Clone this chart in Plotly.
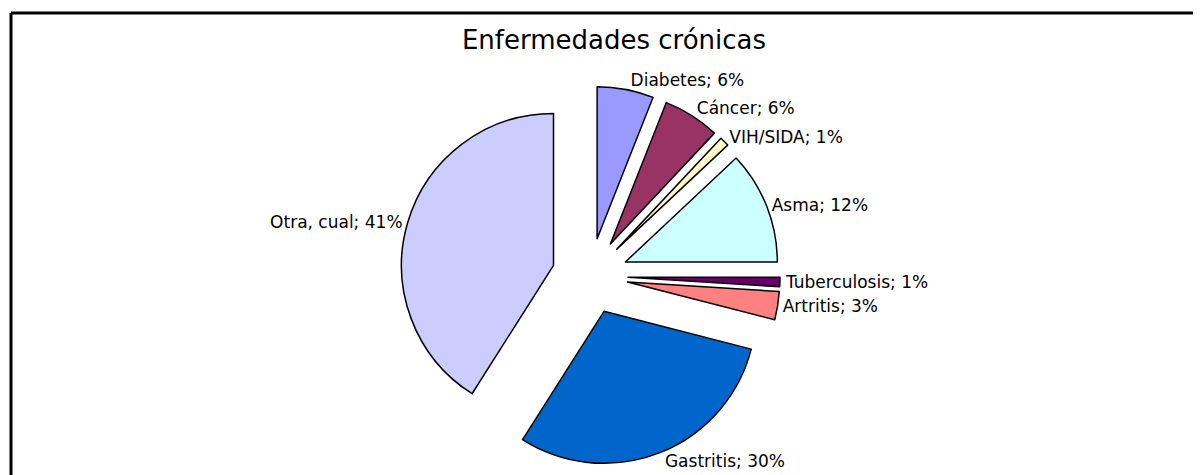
import plotly.graph_objects as go

labels = ["Diabetes", "Cáncer", "VIH/SIDA", "Asma", "Tuberculosis", "Artritis", "Gastritis", "Otra, cual"]
values = [6, 6, 1, 12, 1, 3, 30, 41]
colors = ["#9999FF", "#993366", "#FFFFCC", "#CCFFFF", "#660066", "#FF8080", "#0066CC", "#CCCCFF"]
title_text = "Enfermedades crónicas"

W, H = 1201, 475
OFF = 8  # page body margin offset

def px_x(x):
    return (x - OFF) / W

def px_y(y):
    return 1 - (y - OFF) / H

fig = go.Figure(go.Pie(
    labels=labels,
    values=values,
    sort=False,
    direction="clockwise",
    rotation=0,
    pull=[0.25] * len(values),
    marker=dict(colors=colors, line=dict(color="black", width=1.5)),
    texttemplate="%{label}; %{value}%",
    textposition="outside",
    textfont=dict(family="DejaVu Sans", size=17, color="black"),
    automargin=False,
    domain=dict(x=[px_x(400), px_x(780)], y=[px_y(466), px_y(86)]),
    showlegend=False,
    hoverinfo="label+value",
))

fig.update_layout(
    width=W, height=H,
    margin=dict(l=0, r=0, t=0, b=0, autoexpand=False),
    paper_bgcolor="white",
    plot_bgcolor="white",
    title=dict(text=title_text, x=px_x(614), xanchor="center", y=px_y(40), yanchor="middle",
               font=dict(family="DejaVu Sans", size=26, color="black")),
    shapes=[
        dict(type="line", xref="paper", yref="paper", x0=px_x(11), x1=1.0, y0=px_y(13), y1=px_y(13),
             line=dict(color="black", width=3)),
        dict(type="line", xref="paper", yref="paper", x0=px_x(11), x1=px_x(11), y0=px_y(13), y1=0,
             line=dict(color="black", width=3)),
    ],
)

fig.write_html("out.html")
